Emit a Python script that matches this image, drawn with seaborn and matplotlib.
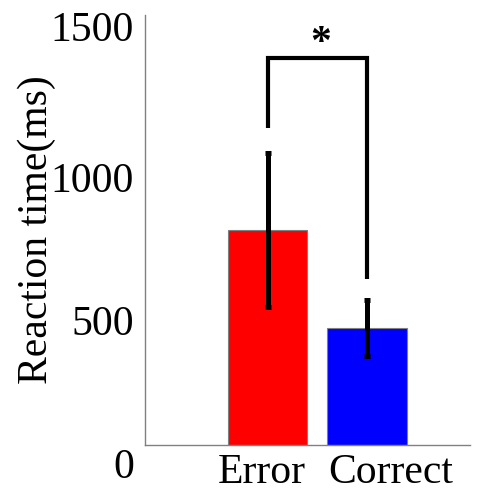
import numpy as np
import pandas as pd
import seaborn as sns
import matplotlib.pyplot as plt
from matplotlib.transforms import ScaledTranslation

# data
conditions = ['Error', 'Correct']
mean_rt = [750, 408]
sem_rt = [267, 98]
bar_colors = ['#ff0000', '#0000ff']
bracket_top = 1350
bracket_feet = [1105, 579]
star_label = '*'

sns.set_style('white')
plt.rcParams['font.family'] = ['Liberation Serif', 'DejaVu Serif']
plt.rcParams['text.color'] = 'black'
plt.rcParams['axes.labelcolor'] = 'black'
plt.rcParams['xtick.color'] = 'black'
plt.rcParams['ytick.color'] = 'black'

df = pd.DataFrame({'cond': conditions, 'rt': mean_rt})

fig = plt.figure(figsize=(4.85, 4.92), dpi=100)
ax = fig.add_axes([0.299, 0.0955, 0.67, 0.874])

sns.barplot(data=df, x='cond', y='rt', hue='cond', palette=bar_colors,
            legend=False, width=0.8, edgecolor='#808080', linewidth=0.8,
            saturation=1, ax=ax)

xs = np.arange(len(conditions))
ax.errorbar(xs, mean_rt, yerr=sem_rt, fmt='none', ecolor='black',
            elinewidth=3.6, capsize=2.5, capthick=3.6)

# significance bracket
ax.plot([xs[0], xs[0], xs[1], xs[1]],
        [bracket_feet[0], bracket_top, bracket_top, bracket_feet[1]],
        color='black', lw=3, solid_capstyle='butt', solid_joinstyle='miter')
ax.text((xs[0] + xs[1]) / 2 + 0.03, bracket_top + 50, star_label,
        ha='center', va='center', fontsize=30, fontweight='bold')

ax.set_xlim(-1.24, 2.04)
ax.set_ylim(0, 1500)
ax.set_yticks([0, 500, 1000, 1500])
ax.set_xlabel('')
ax.set_ylabel('Reaction time(ms)', fontsize=30, labelpad=-4)
ax.tick_params(axis='both', length=0, labelsize=30)
ax.tick_params(axis='y', pad=8)
ax.tick_params(axis='x', pad=6)

for sp in ['top', 'right']:
    ax.spines[sp].set_visible(False)
for sp in ['left', 'bottom']:
    ax.spines[sp].set_color('#808080')
    ax.spines[sp].set_linewidth(1)

# shift tick labels like the original layout
ydrops = [0.18, 0.19, 0.19, 0.11]
for lab, dy in zip(ax.get_yticklabels(), ydrops):
    lab.set_transform(lab.get_transform() + ScaledTranslation(0, -dy, fig.dpi_scale_trans))
shifts = [-0.06, 0.24]
for lab, dx in zip(ax.get_xticklabels(), shifts):
    lab.set_transform(lab.get_transform() + ScaledTranslation(dx, 0, fig.dpi_scale_trans))

fig.savefig('out.png', dpi=100)
